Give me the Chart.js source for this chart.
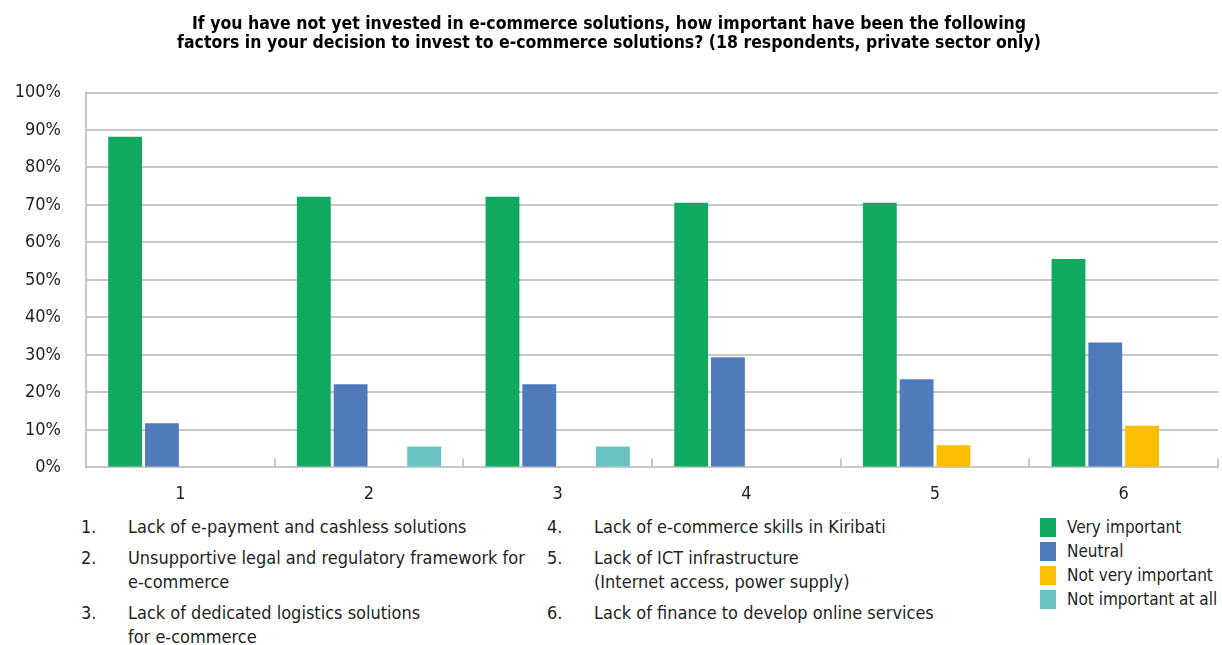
<!DOCTYPE html>
<html>
<head>
<meta charset="utf-8">
<script src="https://cdn.jsdelivr.net/npm/chart.js@4"></script>
<style>
  body { margin: 0; background: #fff; }
  #wrap { position: relative; width: 1222px; height: 645px; font-family: "Liberation Sans Narrow", "DejaVu Sans Condensed", sans-serif; color: #231f20; }
  #box { position: absolute; left: 0; top: 0; width: 1222px; height: 515px; }
  .item { position: absolute; font-size: 18px; line-height: 24px; }
  .item .num { position: absolute; left: 0; top: 0; }
  .item .txt { position: absolute; left: 47px; top: 0; white-space: nowrap; }
  .key { position: absolute; left: 1040px; font-size: 17px; line-height: 24px; white-space: nowrap; }
  .key i { position: absolute; left: 0; top: 3px; width: 16px; height: 19px; }
  .key span { position: absolute; left: 27px; top: 0; }
</style>
</head>
<body>
<div id="wrap">
  <div id="box"><canvas id="graficoFatores"></canvas></div>
  <div id="lista"></div>
  <div id="chave"></div>
</div>
<script>
// categorias e valores (% de respondentes)
const categorias = ['1', '2', '3', '4', '5', '6'];
const series = ['Very important', 'Neutral', 'Not very important', 'Not important at all'];
const muitoImportante = [88.2, 72.2, 72.2, 70.6, 70.6, 55.6];
const neutro = [11.8, 22.2, 22.2, 29.4, 23.5, 33.3];
const poucoImportante = [0, 0, 0, 0, 5.9, 11.1];
const nadaImportante = [0, 5.6, 5.6, 0, 0, 0];
const cores = ['#0fa960', '#4f7bbb', '#fdbd00', '#6ac3c3'];
const ticksY = [0, 10, 20, 30, 40, 50, 60, 70, 80, 90, 100];
const fatores = [
    ['Lack of e-payment and cashless solutions'],
    ['Unsupportive legal and regulatory framework for', 'e-commerce'],
    ['Lack of dedicated logistics solutions', 'for e-commerce'],
    ['Lack of e-commerce skills in Kiribati'],
    ['Lack of ICT infrastructure', '(Internet access, power supply)'],
    ['Lack of finance to develop online services']
];

const fonte = '"Liberation Sans Narrow", "DejaVu Sans Condensed", sans-serif';
const cinza = '#c8c8c8';

// pequenos traços entre as categorias, para dentro do gráfico
const tracosEixo = {
    id: 'tracosEixo',
    afterDraw(chart) {
        const x = chart.scales.x;
        const c = chart.ctx;
        c.save();
        c.strokeStyle = cinza;
        c.lineWidth = 2;
        for (let i = 1; i <= categorias.length; i++) {
            const px = Math.round(x.getPixelForValue(i - 0.5));
            c.beginPath();
            c.moveTo(px, x.top);
            c.lineTo(px, x.top - 9);
            c.stroke();
        }
        c.restore();
    }
};

const ctx = document.getElementById('graficoFatores').getContext('2d');
new Chart(ctx, {
    type: 'bar',
    data: {
        labels: categorias,
        datasets: [muitoImportante, neutro, poucoImportante, nadaImportante].map((d, i) => ({
            label: series[i],
            data: d,
            backgroundColor: cores[i],
            borderWidth: 0,
            barPercentage: 0.92,
            categoryPercentage: 0.78
        }))
    },
    options: {
        responsive: true,
        maintainAspectRatio: false,
        animation: false,
        layout: { padding: { left: 0, right: 4, top: 0, bottom: 2 } },
        scales: {
            x: {
                grid: { display: false },
                border: { color: cinza, width: 2 },
                ticks: { color: '#231f20', font: { family: fonte, size: 18 }, padding: 8 }
            },
            y: {
                min: 0,
                max: 100,
                afterBuildTicks: s => { s.ticks = ticksY.map(v => ({ value: v })); },
                afterFit: s => { s.width = 86; },
                grid: { color: cinza, lineWidth: 2, drawTicks: false },
                border: { color: cinza, width: 2 },
                ticks: {
                    color: '#231f20',
                    font: { family: fonte, size: 18 },
                    padding: 25,
                    callback: v => v + '%'
                }
            }
        },
        plugins: {
            legend: { display: false },
            tooltip: { enabled: false },
            title: {
                display: true,
                text: [
                    'If you have not yet invested in e-commerce solutions, how important have been the following',
                    'factors in your decision to invest to e-commerce solutions? (18 respondents, private sector only)'
                ],
                color: '#000',
                font: { family: fonte, size: 17.5, weight: 'bold', lineHeight: 1.1 },
                padding: { top: 15, bottom: 39 }
            }
        }
    },
    plugins: [tracosEixo]
});

// lista numerada dos fatores (duas colunas)
const lista = document.getElementById('lista');
const posicoes = [[81, 515], [81, 546], [81, 601], [547, 515], [547, 546], [547, 601]];
fatores.forEach((linhas, i) => {
    const el = document.createElement('div');
    el.className = 'item';
    el.style.left = posicoes[i][0] + 'px';
    el.style.top = posicoes[i][1] + 'px';
    el.innerHTML = '<span class="num">' + (i + 1) + '.</span><span class="txt">' + linhas.join('<br>') + '</span>';
    lista.appendChild(el);
});

// chave de cores das séries
const chave = document.getElementById('chave');
series.forEach((nome, i) => {
    const el = document.createElement('div');
    el.className = 'key';
    el.style.top = (515 + i * 24) + 'px';
    el.innerHTML = '<i style="background:' + cores[i] + '"></i><span>' + nome + '</span>';
    chave.appendChild(el);
});
</script>
</body>
</html>
